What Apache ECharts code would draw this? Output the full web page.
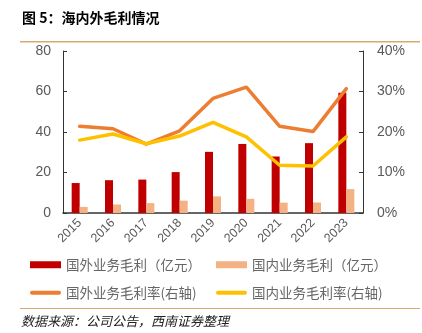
<!DOCTYPE html>
<html><head><meta charset="utf-8">
<script src="https://cdn.jsdelivr.net/npm/echarts@6/dist/echarts.min.js"></script>
<style>html,body{margin:0;padding:0;background:#fff}#c{width:422px;height:333px}</style>
</head><body><div id="c"></div>
<script>
const categories = ['2015','2016','2017','2018','2019','2020','2021','2022','2023'];
const foreignProfit = [14.8, 16.2, 16.5, 20.2, 30.2, 34.1, 27.9, 34.5, 59.4];
const domesticProfit = [3.0, 4.2, 4.9, 6.1, 8.2, 7.0, 5.1, 5.2, 11.8];
const foreignMargin = [21.4, 20.8, 17.0, 20.3, 28.3, 31.1, 21.4, 20.1, 30.7];
const domesticMargin = [18.0, 19.5, 17.1, 19.0, 22.4, 18.8, 11.8, 11.6, 18.8];
const seriesNames = ['国外业务毛利（亿元）','国内业务毛利（亿元）','国外业务毛利率(右轴)','国内业务毛利率(右轴)'];
const titleText = '图 5：海内外毛利情况';
const sourceText = '数据来源：公司公告，西南证券整理';

const chart = echarts.init(document.getElementById('c'), null, {renderer:'canvas'});
const axisColor = '#333';
const textColor = '#595959';
const legendColor = '#666';
const font = '"Noto Sans CJK SC", sans-serif';
const lineIcon = 'path://M2,0 L29,0 A2,2 0 0 1 29,4 L2,4 A2,2 0 0 1 2,0 Z';
const legendBase = (name, icon, left, top, h) => ({
  left: left, top: top, itemWidth: 31, itemHeight: h, padding: 0,
  textStyle: {color: legendColor, fontSize: 13.5, fontFamily: font},
  data: [{name: name, icon: icon}]
});
chart.setOption({
  animation: false,
  textStyle: {fontFamily: font},
  graphic: [
    {type:'text', left: 22, top: 11, style:{text: titleText, font: 'bold 14px "Noto Sans CJK SC", sans-serif', fill:'#000'}},
    {type:'rect', shape:{x:20, y:41, width:400, height:1.5}, style:{fill:'#d9aa6c'}},
    {type:'rect', shape:{x:20, y:308, width:400, height:1}, style:{fill:'#d9aa6c'}},
    {type:'text', left: 21, top: 315, style:{text: sourceText, font: 'italic 13px "Noto Sans CJK SC", sans-serif', fill:'#222'}}
  ],
  grid: {left: 63, right: 59, top: 51, bottom: 120, containLabel: false},
  legend: [
    legendBase(seriesNames[0], 'rect', 30, 258, 7),
    legendBase(seriesNames[1], 'rect', 216, 258, 7),
    legendBase(seriesNames[2], lineIcon, 30, 286, 4),
    legendBase(seriesNames[3], lineIcon, 216, 286, 4)
  ],
  xAxis: {
    type: 'category', data: categories,
    axisLine: {lineStyle: {color: axisColor, width: 1.5}},
    axisTick: {inside: true, length: 4, lineStyle:{color: axisColor}},
    axisLabel: {rotate: 45, color: textColor, fontSize: 12.5, fontFamily: 'Liberation Sans, Arial, sans-serif', margin: 8}
  },
  yAxis: [
    {type: 'value', min: 0, max: 80, interval: 20, splitLine: {show: false},
     axisLine: {show: true, lineStyle: {color: axisColor}},
     axisTick: {show: true, inside: true, length: 4, lineStyle:{color: axisColor}},
     axisLabel: {color: textColor, fontSize: 14, fontFamily: 'Liberation Sans, Arial, sans-serif', margin: 12}},
    {type: 'value', min: 0, max: 40, interval: 10, splitLine: {show: false},
     axisLine: {show: true, lineStyle: {color: axisColor}},
     axisTick: {show: true, inside: true, length: 4, lineStyle:{color: axisColor}},
     axisLabel: {color: textColor, fontSize: 14, fontFamily: 'Liberation Sans, Arial, sans-serif', margin: 14, formatter: '{value}%'}}
  ],
  series: [
    {name: seriesNames[0], type: 'bar', data: foreignProfit, barWidth: 8, barGap: '0%', itemStyle: {color: '#c00000'}},
    {name: seriesNames[1], type: 'bar', data: domesticProfit, barWidth: 8, barGap: '0%', itemStyle: {color: '#f4b183'}},
    {name: seriesNames[2], type: 'line', yAxisIndex: 1, data: foreignMargin, symbol: 'none', lineStyle: {color: '#ed7d31', width: 3.5, cap:'round'}, itemStyle:{color:'#ed7d31'}},
    {name: seriesNames[3], type: 'line', yAxisIndex: 1, data: domesticMargin, symbol: 'none', lineStyle: {color: '#ffc000', width: 3.5, cap:'round'}, itemStyle:{color:'#ffc000'}}
  ]
});
</script></body></html>
